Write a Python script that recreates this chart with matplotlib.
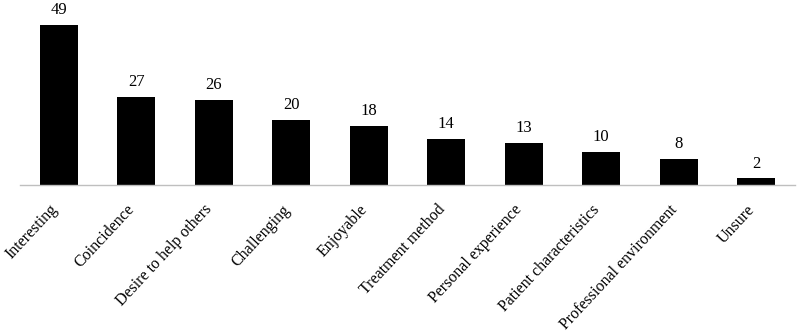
import matplotlib
matplotlib.use("Agg")
import matplotlib.pyplot as plt
import matplotlib.transforms as mtransforms

categories = ["Interesting", "Coincidence", "Desire to help others", "Challenging",
              "Enjoyable", "Treatment method", "Personal experience",
              "Patient characteristics", "Professional environment", "Unsure"]
values = [49, 27, 26, 20, 18, 14, 13, 10, 8, 2]

plt.rcParams['font.family'] = ['Liberation Serif', 'DejaVu Serif']

fig = plt.figure(figsize=(7.97, 3.35), dpi=100)
ax = fig.add_axes([20/797, 150/335, 775/797, 185/335])
x = list(range(len(categories)))
bars = ax.bar(x, values, width=0.49, color='black')
ax.set_xlim(-0.5, len(categories) - 0.5)
ax.set_ylim(0, 56.6)
for xi, v in zip(x, values):
    ax.annotate(str(v), (xi, v), xytext=(0, 5), textcoords='offset points',
                ha='center', va='bottom', fontsize=12)
ax.set_xticks(x)
ax.set_xticklabels(categories, rotation=47, ha='right', va='center',
                   rotation_mode='anchor', fontsize=11.5)
ax.tick_params(axis='x', length=0, pad=16)
offset = mtransforms.ScaledTranslation(-4/100, 0, fig.dpi_scale_trans)
for lbl in ax.get_xticklabels():
    lbl.set_transform(lbl.get_transform() + offset)
ax.set_yticks([])
for s in ['top', 'right', 'left']:
    ax.spines[s].set_visible(False)
ax.spines['bottom'].set_color('#bfbfbf')
ax.spines['bottom'].set_linewidth(1)
fig.savefig("out.png", dpi=100)
